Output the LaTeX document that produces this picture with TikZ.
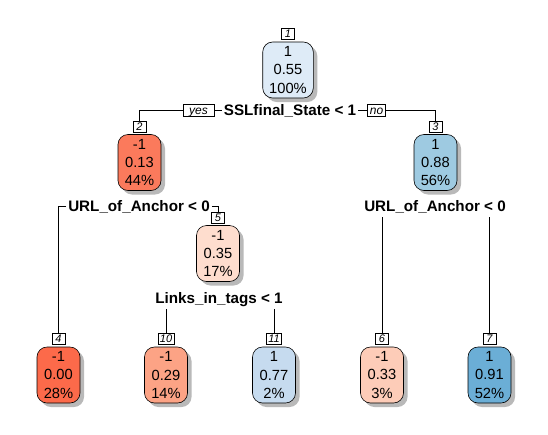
\documentclass[tikz,border=0pt]{standalone}
\usepackage{fontspec}
\setmainfont{Liberation Sans}
\definecolor{cA}{RGB}{222,235,247}
\definecolor{cB}{RGB}{251,122,92}
\definecolor{cC}{RGB}{158,202,225}
\definecolor{cD}{RGB}{254,221,206}
\definecolor{cE}{RGB}{252,106,74}
\definecolor{cF}{RGB}{252,163,133}
\definecolor{cG}{RGB}{198,219,239}
\definecolor{cH}{RGB}{253,204,184}
\definecolor{cI}{RGB}{107,174,214}
\definecolor{shadowgray}{RGB}{185,185,185}
\begin{document}
\begin{tikzpicture}[x=1pt,y=-1pt,
  treebox/.style={draw, line width=0.6pt, rounded corners=10pt, align=center,
    inner xsep=6.5pt, inner ysep=4pt, minimum height=56pt, minimum width=43pt,
    font=\fontsize{14.7}{18.3}\selectfont,
    preaction={fill=shadowgray, transform canvas={shift={(4pt,-4pt)}}}},
  numlab/.style={draw, fill=white, line width=0.5pt, font=\fontsize{11}{11}\selectfont\itshape,
    inner xsep=2pt, inner ysep=0.5pt, minimum width=13pt, minimum height=11pt,
    text height=8pt, text depth=0pt, anchor=south},
  splitlab/.style={font=\fontsize{15.2}{16}\selectfont\bfseries, inner xsep=2pt, inner ysep=5.5pt,
    text height=10.8pt, text depth=0pt},
  yesno/.style={draw, fill=white, line width=0.5pt, font=\fontsize{12}{12}\selectfont\itshape,
    inner xsep=2pt, inner ysep=0.5pt, minimum height=12pt, text height=8.5pt, text depth=0pt},
  conn/.style={line width=0.55pt, draw=black}
]
\useasboundingbox (0,0) rectangle (548,434);
% boxes
\node[treebox, fill=cA] (n1) at (288,70) {1\\0.55\\100\%};
\node[treebox, fill=cB] (n2) at (139.5,162.5) {-1\\0.13\\44\%};
\node[treebox, fill=cC] (n3) at (435.5,162.5) {1\\0.88\\56\%};
\node[treebox, fill=cD] (n5) at (218,253.5) {-1\\0.35\\17\%};
\node[treebox, fill=cE] (n4) at (58.5,375) {-1\\0.00\\28\%};
\node[treebox, fill=cF] (n10) at (166,375) {-1\\0.29\\14\%};
\node[treebox, fill=cG] (n11) at (274,375) {1\\0.77\\2\%};
\node[treebox, fill=cH] (n6) at (382,375) {-1\\0.33\\3\%};
\node[treebox, fill=cI] (n7) at (489.5,375) {1\\0.91\\52\%};
% number labels
\node[numlab] (l1) at ([yshift=2pt]n1.north) {1};
\node[numlab] (l2) at ([yshift=2pt]n2.north) {2};
\node[numlab] (l3) at ([yshift=2pt]n3.north) {3};
\node[numlab] (l5) at ([yshift=2pt]n5.north) {5};
\node[numlab] (l4) at ([yshift=2pt]n4.north) {4};
\node[numlab] (l10) at ([yshift=2pt]n10.north) {10};
\node[numlab] (l11) at ([yshift=2pt]n11.north) {11};
\node[numlab] (l6) at ([yshift=2pt]n6.north) {6};
\node[numlab] (l7) at ([yshift=2pt]n7.north) {7};
% split labels
\node[splitlab] (s1) at (290,110.5) {SSLfinal\_State < 1};
\node[yesno, minimum width=31pt] (yes) at (198.5,110.5) {yes};
\node[yesno, minimum width=18pt] (no) at (376.5,110.5) {no};
\node[splitlab] (s2) at (139,206) {URL\_of\_Anchor < 0};
\node[splitlab] (s3) at (435,206) {URL\_of\_Anchor < 0};
\node[splitlab] (s5) at (219,298) {Links\_in\_tags < 1};
% connectors
\draw[conn] (s1.west) -- (yes.east);
\draw[conn] (yes.west) -| (l2.north);
\draw[conn] (s1.east) -- (no.west);
\draw[conn] (no.east) -| (l3.north);
\draw[conn] (s2.west) -| (l4.north);
\draw[conn] (s2.east) -| (l5.north);
\draw[conn] (l6.north |- s3.south) -- (l6.north);
\draw[conn] (l7.north |- s3.south) -- (l7.north);
\draw[conn] (l10.north |- s5.south) -- (l10.north);
\draw[conn] (l11.north |- s5.south) -- (l11.north);
\end{tikzpicture}
\end{document}
